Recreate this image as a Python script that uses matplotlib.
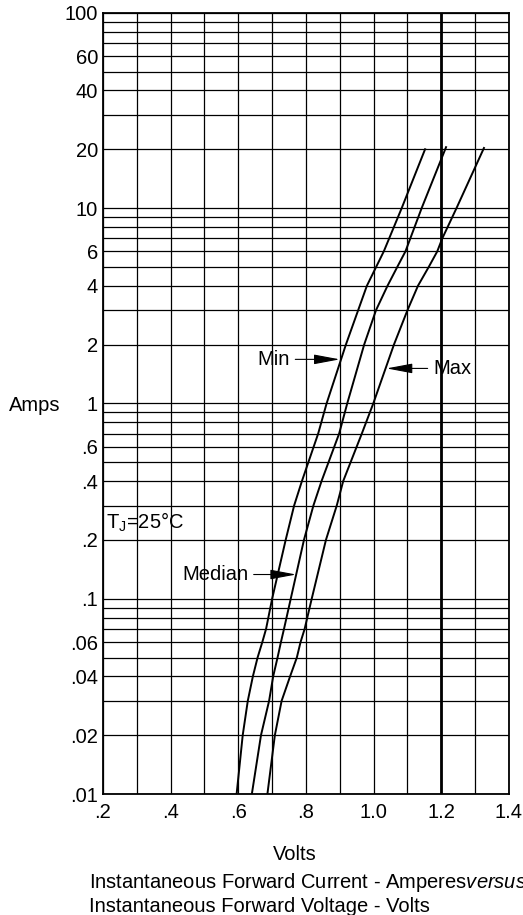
import numpy as np
import matplotlib
matplotlib.use("Agg")
import matplotlib.pyplot as plt
from matplotlib.ticker import FixedLocator, LogLocator, MultipleLocator, NullFormatter

plt.rcParams['font.family'] = ['Liberation Sans', 'DejaVu Sans']
plt.rcParams['mathtext.fontset'] = 'custom'
plt.rcParams['mathtext.rm'] = 'Liberation Sans'
plt.rcParams['mathtext.it'] = 'Liberation Sans:italic'

# forward current (A) read at the grid lines, and the voltage of each curve there
i_min = [20, 10, 6, 4, 2, 1, 0.7, 0.4, 0.3, 0.2, 0.1, 0.07, 0.06, 0.05, 0.04, 0.03, 0.02, 0.01]
v_min = [1.152, 1.083, 1.030, 0.980, 0.918, 0.861, 0.836, 0.788, 0.765, 0.740, 0.700,
         0.682, 0.671, 0.657, 0.643, 0.628, 0.613, 0.595]

i_med = [20.5, 10, 6, 5, 4, 3, 2, 1, 0.7, 0.4, 0.3, 0.2, 0.1, 0.07, 0.06, 0.05, 0.04, 0.03, 0.02, 0.01]
v_med = [1.214, 1.142, 1.094, 1.070, 1.041, 1.007, 0.972, 0.922, 0.898, 0.846, 0.822, 0.794,
         0.755, 0.735, 0.726, 0.716, 0.703, 0.691, 0.667, 0.640]

i_max = [20.3, 10, 7, 6, 5, 4, 3, 2, 1, 0.7, 0.4, 0.3, 0.2, 0.1, 0.07, 0.06, 0.05, 0.04, 0.03, 0.02, 0.01]
v_max = [1.326, 1.245, 1.203, 1.188, 1.163, 1.131, 1.100, 1.060, 0.999, 0.965, 0.910, 0.891,
         0.859, 0.817, 0.796, 0.784, 0.773, 0.753, 0.728, 0.708, 0.686]

volt_ticks = [0.2, 0.4, 0.6, 0.8, 1.0, 1.2, 1.4]
volt_labels = [".2", ".4", ".6", ".8", "1.0", "1.2", "1.4"]
amp_ticks = [100, 60, 40, 20, 10, 6, 4, 2, 1, 0.6, 0.4, 0.2, 0.1, 0.06, 0.04, 0.02, 0.01]
amp_labels = ["100", "60", "40", "20", "10", "6", "4", "2", "1", ".6", ".4", ".2",
              ".1", ".06", ".04", ".02", ".01"]

fs = 14.5
fig = plt.figure(figsize=(5.23, 9.15), dpi=100)
ax = fig.add_axes([0.1969, 0.1322, 0.7763, 0.8539])

ax.set_yscale('log')
ax.set_xlim(0.2, 1.4)
ax.set_ylim(0.01, 100)

ax.xaxis.set_major_locator(FixedLocator(volt_ticks))
ax.set_xticklabels(volt_labels)
ax.xaxis.set_minor_locator(MultipleLocator(0.1))
ax.yaxis.set_major_locator(FixedLocator(amp_ticks))
ax.set_yticklabels(amp_labels)
ax.yaxis.set_minor_locator(LogLocator(base=10, subs=np.arange(1, 10), numticks=100))
ax.yaxis.set_minor_formatter(NullFormatter())

ax.grid(which='both', color='black', lw=0.9)
ax.axvline(1.2, color='black', lw=2.0)
ax.tick_params(which='both', length=0, labelsize=fs)
ax.tick_params(axis='x', pad=6.5)
ax.tick_params(axis='y', pad=3.5)
for s in ax.spines.values():
    s.set_linewidth(1.3)

for v, i in [(v_min, i_min), (v_med, i_med), (v_max, i_max)]:
    ax.plot(v, i, color='black', lw=1.4, zorder=3)

arrow = dict(arrowstyle='-|>,head_length=1.6,head_width=0.3', color='black',
             lw=0.8, mutation_scale=10, shrinkA=2, shrinkB=0)
ax.annotate("Min", xy=(0.900, 1.68), xytext=(0.752, 1.68), ha='right', va='center',
            fontsize=fs, arrowprops=arrow)
ax.annotate("Max", xy=(1.038, 1.51), xytext=(1.176, 1.51), ha='left', va='center',
            fontsize=fs, arrowprops=arrow)
ax.annotate("Median", xy=(0.771, 0.133), xytext=(0.629, 0.133), ha='right', va='center',
            fontsize=fs, arrowprops=arrow)
ax.text(0.209, 0.247, r"T$_\mathrm{J}$=25°C", ha='left', va='center', fontsize=fs)

fig.text(9 / 523, 1 - 405 / 915, "Amps", ha='left', va='center', fontsize=fs)
fig.text(294.5 / 523, 1 - 855 / 915, "Volts", ha='center', va='center', fontsize=fs)
fig.text(89 / 523, 1 - 882.7 / 915, r"Instantaneous Forward Current - Amperes$\mathit{versus}$",
         ha='left', va='center', fontsize=fs)
fig.text(89 / 523, 1 - 906 / 915, "Instantaneous Forward Voltage - Volts",
         ha='left', va='center', fontsize=fs)

fig.savefig("out.png", dpi=100)
